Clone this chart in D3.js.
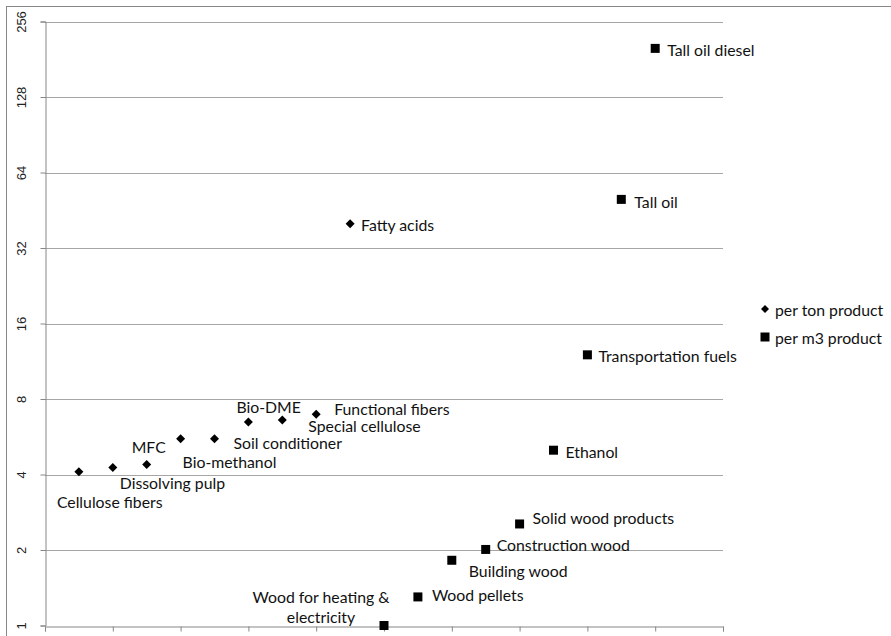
<!DOCTYPE html>
<html>
<head>
<meta charset="utf-8">
<script src="https://cdn.jsdelivr.net/npm/d3@7"></script>
<style>
  body { margin: 0; background: #fff; }
  svg { display: block; }
</style>
</head>
<body>
<div id="chart"></div>
<script>
// Series: per ton product (diamonds)
const tonNames = ["Cellulose fibers", "Dissolving pulp", "MFC", "Bio-methanol", "Soil conditioner",
  "Bio-DME", "Special cellulose", "Functional fibers", "Fatty acids"];
const tonX = [1, 2, 3, 4, 5, 6, 7, 8, 9];
const tonY = [4.1, 4.27, 4.38, 5.55, 5.55, 6.48, 6.6, 6.95, 40];

// Series: per m3 product (squares)
const m3Names = ["Wood for heating &\nelectricity", "Wood pellets", "Building wood", "Construction wood",
  "Solid wood products", "Ethanol", "Transportation fuels", "Tall oil", "Tall oil diesel"];
const m3X = [10, 11, 12, 13, 14, 15, 16, 17, 18];
const m3Y = [1, 1.3, 1.82, 2.01, 2.54, 5, 12, 50, 200];

const yTicks = [1, 2, 4, 8, 16, 32, 64, 128, 256];
const xTicks = [0, 2, 4, 6, 8, 10, 12, 14, 16, 18, 20];
const legendNames = ["per ton product", "per m3 product"];

// label offsets from the marker (dx, dy), like Excel's manually dragged labels
const tonLabelOffset = [[-22, 30], [7, 15], [-15, -18], [2, 23], [19, 4], [-12, -15], [26, 6], [18, -6], [11, 1]];
const m3LabelOffset = [[-63, -30], [14, -2], [17, 10], [11, -5], [13, -6], [12, 1], [11, 1], [13, 2], [12, 1]];

const width = 891, height = 636;
const svg = d3.select("#chart").append("svg")
  .attr("width", width)
  .attr("height", height);

// outer chart frame
svg.append("rect")
  .attr("x", 6.5).attr("y", 6.5)
  .attr("width", 900).attr("height", 700)
  .attr("fill", "none")
  .attr("stroke", "#868686");

const x = d3.scaleLinear().domain([0, 20]).range([45, 723]);
const y = d3.scaleLog().base(2).domain([1, 256]).range([625.5, 21.5]);

// gridlines
svg.append("g")
  .selectAll("line")
  .data(yTicks.slice(1))
  .join("line")
  .attr("x1", x(0)).attr("x2", x(20))
  .attr("y1", d => Math.round(y(d)) + 0.5)
  .attr("y2", d => Math.round(y(d)) + 0.5)
  .attr("stroke", "#a6a6a6")
  .attr("stroke-width", 1);

// y axis
const yAxis = svg.append("g")
  .attr("transform", `translate(${Math.round(x(0)) + 0.5},0)`)
  .call(d3.axisLeft(y).tickValues(yTicks).tickSize(5).tickPadding(0).tickFormat(d3.format("d")));
yAxis.select(".domain").attr("stroke", "#868686");
yAxis.selectAll(".tick line").attr("stroke", "#868686");
yAxis.selectAll(".tick text")
  .attr("x", 0).attr("dy", null)
  .attr("text-anchor", "middle")
  .attr("dominant-baseline", "central")
  .attr("transform", "translate(-24,0) rotate(-90)")
  .attr("font-family", "Liberation Sans, Arial, sans-serif")
  .attr("font-size", 13)
  .attr("fill", "#222");

// x axis (no labels)
const xAxis = svg.append("g")
  .attr("transform", `translate(0,${Math.round(y(1)) + 0.5})`)
  .call(d3.axisBottom(x).tickValues(xTicks).tickSize(5).tickFormat(""));
xAxis.select(".domain").attr("stroke", "#868686");
xAxis.selectAll(".tick line").attr("stroke", "#868686");

const diamond = "M0,-4.5L4.5,0L0,4.5L-4.5,0Z";
const square = "M-4.5,-4.5H4.5V4.5H-4.5Z";

const tonData = tonNames.map((n, i) => ({ name: n, x: tonX[i], y: tonY[i], off: tonLabelOffset[i] }));
const m3Data = m3Names.map((n, i) => ({ name: n, x: m3X[i], y: m3Y[i], off: m3LabelOffset[i] }));

const labelFont = "Lato, 'Open Sans', sans-serif";
const labelSize = 15.8;

function drawSeries(data, shape, multiAnchor) {
  const g = svg.append("g");
  g.selectAll("path")
    .data(data)
    .join("path")
    .attr("d", shape)
    .attr("fill", "#000")
    .attr("transform", d => `translate(${x(d.x)},${y(d.y)})`);

  g.selectAll("text")
    .data(data)
    .join("text")
    .attr("font-family", labelFont)
    .attr("font-size", labelSize)
    .attr("fill", "#111")
    .attr("dominant-baseline", "central")
    .each(function (d) {
      const t = d3.select(this);
      const lines = d.name.split("\n");
      const px = x(d.x) + d.off[0], py = y(d.y) + d.off[1];
      if (lines.length > 1) {
        t.attr("text-anchor", multiAnchor);
        lines.forEach((l, k) => {
          t.append("tspan").attr("x", px).attr("y", py + k * 20).text(l);
        });
      } else {
        t.attr("x", px).attr("y", py).text(d.name);
      }
    });
}

drawSeries(tonData, diamond, "start");
drawSeries(m3Data, square, "middle");

// legend
const legend = svg.append("g").attr("transform", "translate(765,309)");
legendNames.forEach((n, i) => {
  const row = legend.append("g").attr("transform", `translate(0,${i * 28})`);
  row.append("path").attr("d", i === 0 ? "M0,-4L4,0L0,4L-4,0Z" : square).attr("fill", "#000");
  row.append("text")
    .attr("x", 10).attr("y", 0)
    .attr("dominant-baseline", "central")
    .attr("font-family", labelFont)
    .attr("font-size", labelSize)
    .attr("fill", "#111")
    .text(n);
});
</script>
</body>
</html>
